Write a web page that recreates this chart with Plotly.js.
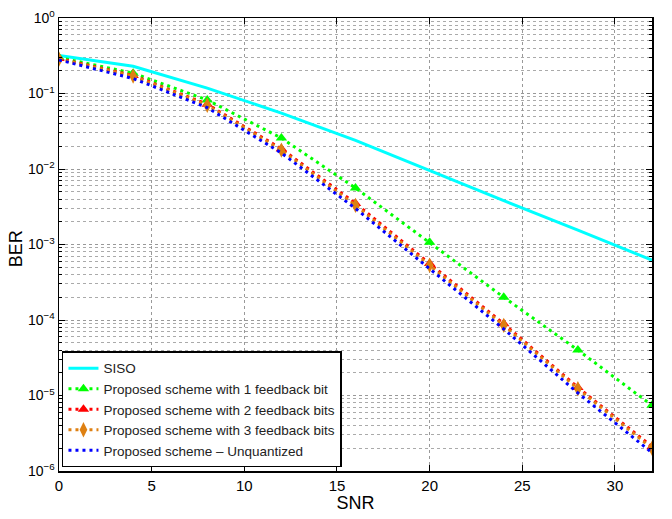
<!DOCTYPE html>
<html>
<head>
<meta charset="utf-8">
<script src="https://cdn.plot.ly/plotly-3.0.1.min.js"></script>
<style>html,body{margin:0;padding:0;background:#fff;}#chart{width:672px;height:519px;}</style>
</head>
<body>
<div id="chart"></div>
<script>
var snr = [0, 4, 8, 12, 16, 20, 24, 28, 32];
var siso = [0.32, 0.23, 0.118, 0.055, 0.024, 0.0095, 0.0038, 0.00155, 0.00062];
var bit1 = [0.30, 0.186, 0.082, 0.0257, 0.0056, 0.00107, 0.0002, 0.00004, 0.0000074];
var bit2 = [0.29, 0.173, 0.072, 0.0185, 0.0035, 0.00056, 0.000089, 0.0000128, 0.0000021];
var bit3 = [0.285, 0.170, 0.070, 0.0178, 0.0033, 0.00053, 0.000085, 0.0000123, 0.0000020];
var unq = [0.278, 0.158, 0.065, 0.0163, 0.0030, 0.00048, 0.000076, 0.0000108, 0.00000175];

var names = ['SISO', 'Proposed scheme with 1 feedback bit', 'Proposed scheme with 2 feedback bits',
             'Proposed scheme with 3 feedback bits', 'Proposed scheme \u2013 Unquantized'];
var xTicks = [0, 5, 10, 15, 20, 25, 30];
var yTickVals = [1e-6, 1e-5, 1e-4, 1e-3, 1e-2, 1e-1, 1];
var yTickText = ['10<sup>\u22126</sup>', '10<sup>\u22125</sup>', '10<sup>\u22124</sup>', '10<sup>\u22123</sup>',
                 '10<sup>\u22122</sup>', '10<sup>\u22121</sup>', '10<sup>0</sup>'];

var minorY = [];
for (var e = -6; e < 0; e++) { for (var m = 2; m <= 9; m++) { minorY.push(m * Math.pow(10, e)); } }

var dotStyle = '3px,4px';
var traces = [
  {x: snr, y: siso, name: names[0], mode: 'lines', line: {color: '#00FFFF', width: 3}},
  {x: snr, y: bit1, name: names[1], mode: 'lines+markers', line: {color: '#00FF00', width: 3, dash: dotStyle},
   marker: {symbol: 'triangle-up', size: 10, color: '#00FF00'}},
  {x: snr, y: bit2, name: names[2], mode: 'lines+markers', line: {color: '#FF0000', width: 3, dash: dotStyle},
   marker: {symbol: 'triangle-up', size: 10, color: '#FF0000'}},
  {x: snr, y: bit3, name: names[3], mode: 'lines+markers', line: {color: '#DE8012', width: 3, dash: dotStyle},
   marker: {symbol: 'diamond-tall', size: 11, color: '#DE8012'}},
  {x: snr, y: unq, name: names[4], mode: 'lines', line: {color: '#0000FF', width: 3, dash: dotStyle}}
];

var fontFam = '"Liberation Sans", Arial, sans-serif';
var layout = {
  width: 672, height: 519,
  margin: {l: 59, r: 20, t: 18, b: 48},
  paper_bgcolor: '#fff', plot_bgcolor: '#fff',
  font: {family: fontFam, color: '#000', size: 15},
  showlegend: true,
  legend: {x: 0.005, y: 0.008, xanchor: 'left', yanchor: 'bottom', bgcolor: '#fff',
           bordercolor: '#000', borderwidth: 1.5, font: {family: fontFam, size: 13.5, color: '#222'},
           tracegroupgap: 0, itemwidth: 30},
  xaxis: {
    range: [0, 32], tickvals: xTicks, ticks: 'inside', ticklen: 6, tickcolor: '#000',
    showline: true, linecolor: '#000', linewidth: 1.5, mirror: 'allticks', zeroline: false,
    showgrid: true, gridcolor: '#999', griddash: 'dot', gridwidth: 1,
    tickfont: {size: 15, family: fontFam},
    title: {text: 'SNR', font: {size: 18, family: fontFam}, standoff: 2}
  },
  yaxis: {
    type: 'log', range: [-6, 0], tickvals: yTickVals, ticktext: yTickText,
    ticks: 'inside', ticklen: 6, tickcolor: '#000',
    showline: true, linecolor: '#000', linewidth: 1.5, mirror: 'allticks', zeroline: false,
    showgrid: true, gridcolor: '#999', griddash: 'dot', gridwidth: 1,
    minor: {tickvals: minorY, ticks: 'inside', ticklen: 3, tickcolor: '#000', showgrid: true,
            gridcolor: '#aaa', griddash: 'dot', gridwidth: 1},
    tickfont: {size: 14, family: fontFam}
  },
  annotations: [{
    text: 'BER', xref: 'paper', yref: 'paper', x: -0.072, y: 0.49, xanchor: 'center', yanchor: 'middle',
    textangle: -90, showarrow: false, font: {size: 18, family: fontFam, color: '#000'}
  }]
};

Plotly.newPlot('chart', traces, layout, {displayModeBar: false, staticPlot: true});
</script>
</body>
</html>
